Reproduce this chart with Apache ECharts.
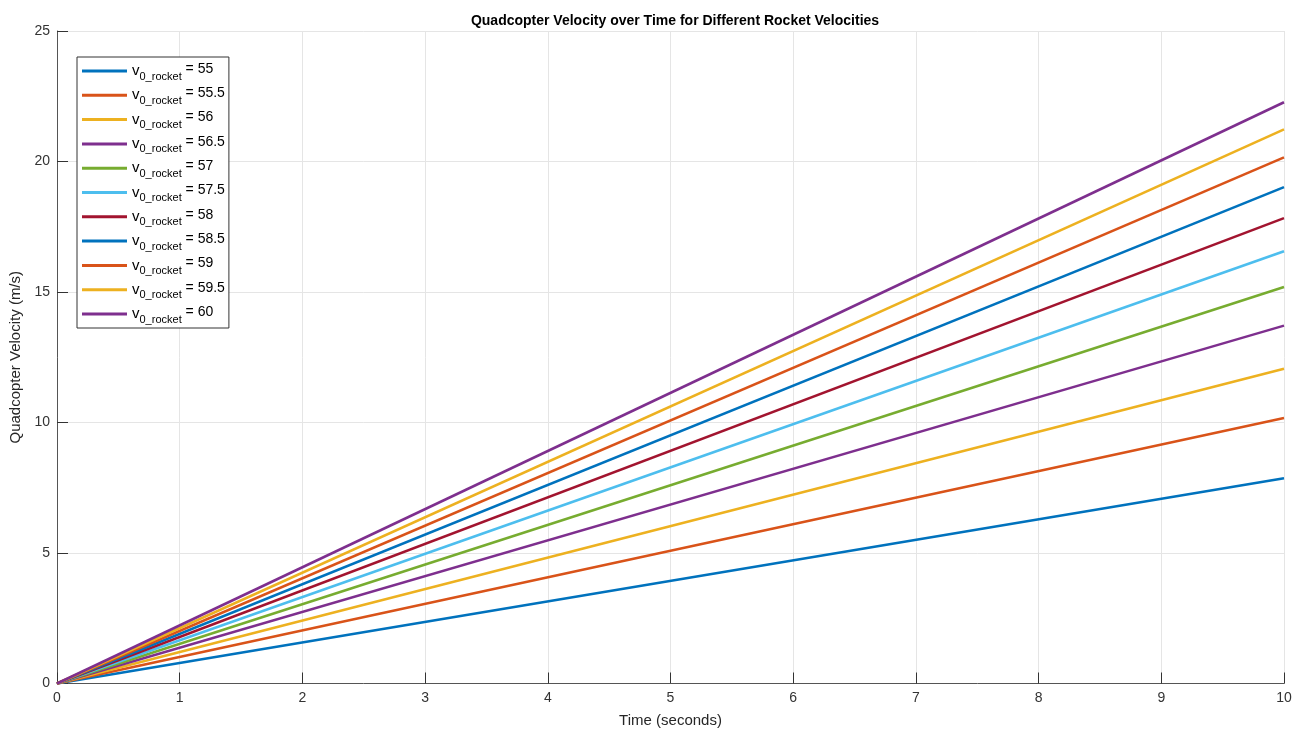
<!DOCTYPE html>
<html>
<head>
<meta charset="utf-8">
<script src="https://cdn.jsdelivr.net/npm/echarts@6/dist/echarts.min.js"></script>
<style>html,body{margin:0;padding:0;background:#fff;}#c{width:1311px;height:736px;}</style>
</head>
<body>
<div id="c"></div>
<script>
const timePoints = [0, 10];
const rocketVelocities = [55, 55.5, 56, 56.5, 57, 57.5, 58, 58.5, 59, 59.5, 60];
const v55 = [0, 7.86];
const v55_5 = [0, 10.17];
const v56 = [0, 12.06];
const v56_5 = [0, 13.71];
const v57 = [0, 15.19];
const v57_5 = [0, 16.56];
const v58 = [0, 17.83];
const v58_5 = [0, 19.02];
const v59 = [0, 20.16];
const v59_5 = [0, 21.23];
const v60 = [0, 22.27];
const seriesValues = [v55, v55_5, v56, v56_5, v57, v57_5, v58, v58_5, v59, v59_5, v60];
const colors = ['#0072BD','#D95319','#EDB120','#7E2F8E','#77AC30','#4DBEEE','#A2142F','#0072BD','#D95319','#EDB120','#7E2F8E'];

const names = rocketVelocities.map(v => 'v' + v);
const chart = echarts.init(document.getElementById('c'));
const font = '"Liberation Sans", Arial, sans-serif';
chart.setOption({
  animation: false,
  textStyle: { fontFamily: font },
  title: {
    text: 'Quadcopter Velocity over Time for Different Rocket Velocities',
    left: 670, textAlign: 'center', top: 9,
    textStyle: { fontFamily: font, fontSize: 14, fontWeight: 'bold', color: '#000' }
  },
  grid: { left: 57, right: 27, top: 31, bottom: 52.5, containLabel: false },
  legend: {
    orient: 'vertical', left: 77, top: 57,
    data: names,
    icon: 'rect', itemWidth: 45, itemHeight: 3, itemGap: 2.3,
    padding: [3, 4, 3, 5],
    backgroundColor: '#fff', borderColor: '#333', borderWidth: 1,
    formatter: function (n) {
      const v = n.slice(1);
      return '{v|v}{s|0_rocket}{e| = ' + v + '}';
    },
    textStyle: {
      fontFamily: font, color: '#000', lineHeight: 22, padding: [0,0,0,0],
      rich: {
        v: { fontSize: 15, fontFamily: font, color: '#000', lineHeight: 22, verticalAlign: 'middle' },
        s: { fontSize: 11, fontFamily: font, color: '#000', lineHeight: 22, verticalAlign: 'bottom', padding: [0,0,0,0] },
        e: { fontSize: 14, fontFamily: font, color: '#000', lineHeight: 22, verticalAlign: 'top', padding: [2,0,0,0] }
      }
    }
  },
  xAxis: {
    type: 'value', min: 0, max: 10, interval: 1,
    name: 'Time (seconds)', nameLocation: 'middle', nameGap: 30,
    nameTextStyle: { fontFamily: font, fontSize: 15, color: '#262626' },
    axisLine: { show: true, lineStyle: { color: '#555', width: 1 } },
    axisTick: { show: true, inside: true, length: 11, lineStyle: { color: '#333' } },
    axisLabel: { fontFamily: font, fontSize: 14, color: '#333', margin: 8 },
    splitLine: { show: true, lineStyle: { color: '#e5e5e5', width: 1 } }
  },
  yAxis: {
    type: 'value', min: 0, max: 25, interval: 5,
    name: 'Quadcopter Velocity (m/s)', nameLocation: 'middle', nameGap: 30, nameRotate: 90,
    nameTextStyle: { fontFamily: font, fontSize: 15, color: '#262626' },
    axisLine: { show: true, lineStyle: { color: '#555', width: 1 } },
    axisTick: { show: true, inside: true, length: 11, lineStyle: { color: '#333' } },
    axisLabel: { fontFamily: font, fontSize: 14, color: '#333', margin: 7 },
    splitLine: { show: true, lineStyle: { color: '#e5e5e5', width: 1 } }
  },
  series: seriesValues.map((vals, i) => ({
    name: names[i],
    type: 'line',
    data: timePoints.map((t, j) => [t, vals[j]]),
    showSymbol: false, symbol: 'none',
    lineStyle: { width: 2.5, color: colors[i] },
    itemStyle: { color: colors[i] },
    clip: false
  }))
});
</script>
</body>
</html>
